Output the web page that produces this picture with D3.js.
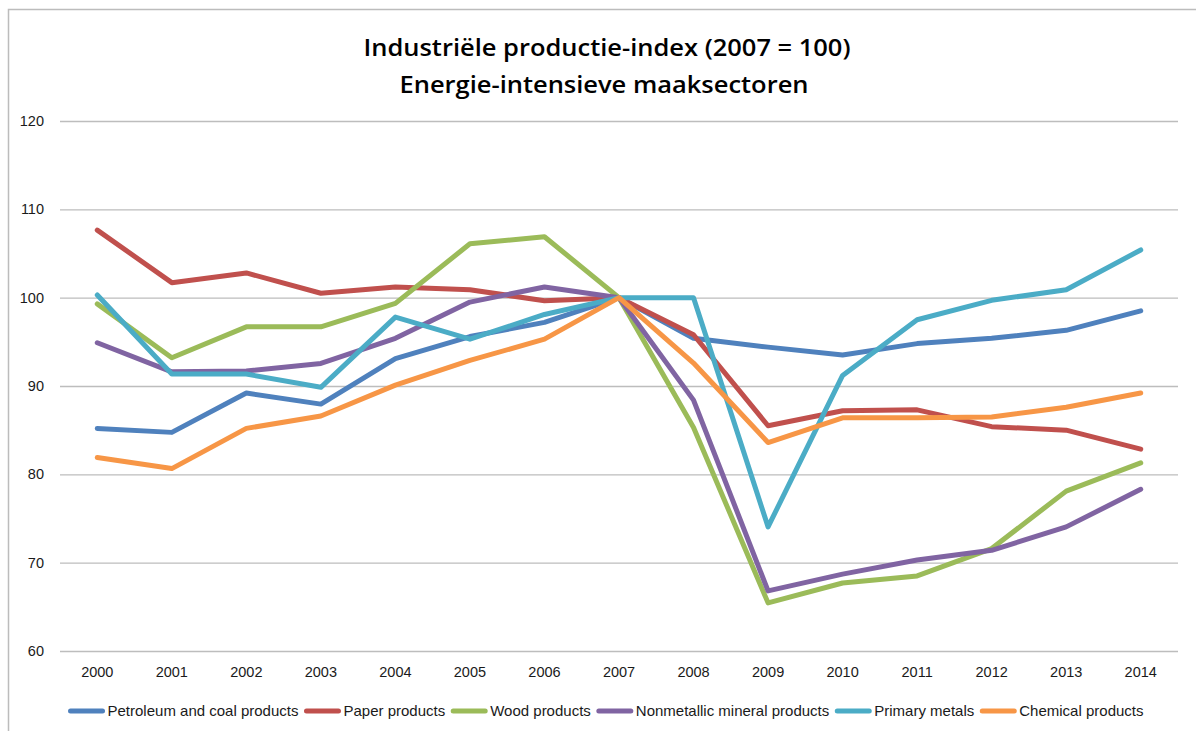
<!DOCTYPE html>
<html>
<head>
<meta charset="utf-8">
<script src="https://cdn.jsdelivr.net/npm/d3@7"></script>
<style>
  html, body { margin: 0; padding: 0; background: #fff; }
  svg { display: block; }
</style>
</head>
<body>
<svg id="chart" width="1196" height="731"></svg>
<script>
// Industrial production index per energy-intensive sector, 2007 = 100
const years = ["2000","2001","2002","2003","2004","2005","2006","2007","2008","2009","2010","2011","2012","2013","2014"];
const yTicks = [60, 70, 80, 90, 100, 110, 120];
const titleLines = ["Industriële productie-index (2007 = 100)", "Energie-intensieve maaksectoren"];

const petroleum   = [85.2, 84.75, 89.2, 87.95, 93.1, 95.6, 97.2, 100, 95.4, 94.4, 93.5, 94.8, 95.4, 96.3, 98.5];
const paper       = [107.65, 101.7, 102.8, 100.5, 101.2, 100.9, 99.65, 100, 95.8, 85.5, 87.2, 87.3, 85.4, 85.0, 82.85];
const wood        = [99.3, 93.2, 96.7, 96.7, 99.35, 106.1, 106.9, 100, 85.3, 65.45, 67.7, 68.5, 71.6, 78.1, 81.3];
const nonmetallic = [94.9, 91.6, 91.7, 92.55, 95.4, 99.5, 101.2, 100, 88.4, 66.8, 68.7, 70.3, 71.4, 74.05, 78.3];
const primary     = [100.3, 91.35, 91.35, 89.85, 97.8, 95.3, 98.1, 100, 100, 74.05, 91.2, 97.5, 99.7, 100.9, 105.4];
const chemical    = [81.9, 80.65, 85.2, 86.6, 90.1, 92.9, 95.3, 100, 92.6, 83.6, 86.4, 86.4, 86.5, 87.6, 89.2];

const seriesNames  = ["Petroleum and coal products", "Paper products", "Wood products", "Nonmetallic mineral products", "Primary metals", "Chemical products"];
const seriesValues = [petroleum, paper, wood, nonmetallic, primary, chemical];
const seriesColors = ["#4F81BD", "#C0504D", "#9BBB59", "#8064A2", "#4BACC6", "#F79646"];

const svg = d3.select("#chart");
const font = "'Liberation Sans', Arial, sans-serif";

// outer chart frame
svg.append("rect")
  .attr("x", 8.5).attr("y", 9.5)
  .attr("width", 1300).attr("height", 900)
  .attr("fill", "none").attr("stroke", "#bcbcbc").attr("stroke-width", 1.5);

const plot = { left: 60, right: 1178, top: 121, bottom: 651 };

const x = d3.scaleBand().domain(years).range([plot.left, plot.right]);
const y = d3.scaleLinear().domain([60, 120]).range([plot.bottom, plot.top]);

// title
const title = svg.append("g")
  .attr("font-family", "'Open Sans', 'Noto Sans', sans-serif")
  .attr("font-weight", 600)
  .attr("font-size", 24)
  .attr("fill", "#000")
  .attr("text-anchor", "middle");
title.append("text").attr("x", 607).attr("y", 56)
  .attr("textLength", 487).attr("lengthAdjust", "spacingAndGlyphs")
  .text(titleLines[0]);
title.append("text").attr("x", 604).attr("y", 93)
  .attr("textLength", 409).attr("lengthAdjust", "spacingAndGlyphs")
  .text(titleLines[1]);

// horizontal gridlines + y labels
const yAxis = d3.axisLeft(y).tickValues(yTicks).tickSize(-(plot.right - plot.left)).tickPadding(16);
const gy = svg.append("g").attr("transform", `translate(${plot.left},0)`).call(yAxis);
gy.select(".domain").remove();
gy.selectAll(".tick line").attr("stroke", "#bdbdbd").attr("stroke-width", 1.3);
gy.selectAll(".tick text")
  .attr("font-family", font).attr("font-size", 14.5).attr("fill", "#1a1a1a");

// x labels
const xAxis = d3.axisBottom(x).tickSize(0).tickPadding(16);
const gx = svg.append("g").attr("transform", `translate(0,${plot.bottom})`).call(xAxis);
gx.select(".domain").remove();
gx.selectAll(".tick text")
  .attr("font-family", font).attr("font-size", 14.5).attr("fill", "#1a1a1a");

// series lines
const line = d3.line()
  .x((d, i) => x(years[i]) + x.bandwidth() / 2)
  .y(d => y(d));

svg.append("g").selectAll("path")
  .data(seriesValues)
  .join("path")
  .attr("d", d => line(d))
  .attr("fill", "none")
  .attr("stroke", (d, i) => seriesColors[i])
  .attr("stroke-width", 5)
  .attr("stroke-linejoin", "round")
  .attr("stroke-linecap", "round");

// legend
const legend = svg.append("g").attr("font-family", font).attr("font-size", 15).attr("fill", "#1a1a1a");
const items = legend.selectAll("g").data(seriesNames).join("g");
items.append("line")
  .attr("x1", 0).attr("x2", 32).attr("y1", 0).attr("y2", 0)
  .attr("stroke", (d, i) => seriesColors[i])
  .attr("stroke-width", 5).attr("stroke-linecap", "round");
items.append("text").attr("x", 37).attr("y", 5).text(d => d);

let offset = 0;
const widths = [];
items.each(function () {
  const w = d3.select(this).select("text").node().getComputedTextLength();
  widths.push(37 + w);
});
const gap = 8;
const total = d3.sum(widths) + gap * (widths.length - 1);
let start = 607 - total / 2;
items.attr("transform", (d, i) => {
  const tx = start + offset;
  offset += widths[i] + gap;
  return `translate(${tx},711)`;
});
</script>
</body>
</html>
